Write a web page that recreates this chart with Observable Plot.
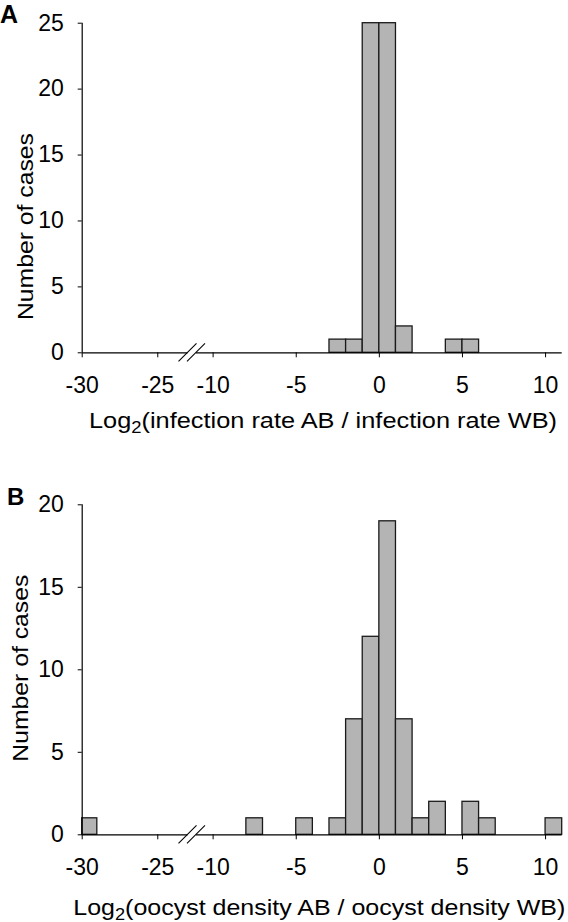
<!DOCTYPE html>
<html><head><meta charset="utf-8">
<script src="https://cdn.jsdelivr.net/npm/d3@7"></script>
<script src="https://cdn.jsdelivr.net/npm/@observablehq/plot@0.6"></script>
<style>
html,body{margin:0;padding:0;background:#fff;overflow:hidden}
svg{display:block}
</style>
</head><body><div id="panelA"></div><div id="panelB"></div>
<script>
// ---- data ----
const binWidth = 1;
const infectionBinStart = [-3, -2, -1, 0, 1, 4, 5];
const infectionCounts   = [1, 1, 25, 25, 2, 1, 1];
const oocystBinStart = [-30, -8, -5, -3, -2, -1, 0, 1, 2, 3, 5, 6, 10];
const oocystCounts   = [1, 1, 1, 1, 7, 12, 19, 7, 1, 2, 2, 1, 1];
const xTicks  = [-30, -25, -10, -5, 0, 5, 10];
const yTicksA = [0, 5, 10, 15, 20, 25];
const yTicksB = [0, 5, 10, 15, 20];
const xBreak  = [-23, -11];            // broken axis: left segment ends, right segment starts
const xDomain = [-30, -23, -11, 11];   // piecewise x scale
const yLabel = "Number of cases";
const titleA = ["Log", "2", "(infection rate AB / infection rate WB)"];
const titleB = ["Log", "2", "(oocyst density AB / oocyst density WB)"];

const FONT = "'Liberation Sans', Arial, sans-serif";

function panel(o) {
  const data = o.bins.map((lo, i) => ({lo, hi: lo + binWidth, count: o.counts[i]}));
  const chart = Plot.plot({
    width: 568,
    height: o.height,
    marginTop: o.marginTop,
    marginBottom: o.marginBottom,
    marginLeft: 81.7,
    marginRight: 6.3,
    style: {fontFamily: FONT, fontSize: "23px", color: "black", background: "white"},
    x: {type: "linear", domain: xDomain, range: [81.7, 187.5, 196, 561.7]},
    y: {domain: [0, o.yMax]},
    marks: [
      Plot.rectY(data, {x1: "lo", x2: "hi", y: "count", fill: "#b4b4b4", stroke: "#1a1a1a", strokeWidth: 1.3}),
      Plot.ruleY([0], {x1: xDomain[0], x2: xBreak[0], stroke: "black", strokeWidth: 1.2}),
      Plot.ruleY([0], {x1: xBreak[1], x2: xDomain[3], stroke: "black", strokeWidth: 1.2}),
      Plot.ruleX([xDomain[0]], {y1: 0, y2: o.yMax, stroke: "black", strokeWidth: 1.2}),
      Plot.axisX({ticks: xTicks, tickSize: 5, tickPadding: 19, label: null, tickFormat: d => String(d)}),
      Plot.axisY({ticks: o.yTicks, tickSize: 4, tickPadding: 14.4, label: null, tickFormat: d => String(d)})
    ]
  });
  document.getElementById(o.id).appendChild(chart);
  const svg = d3.select(chart);
  const xs = chart.scale("x"), ys = chart.scale("y");
  const y0 = ys.apply(0);
  // axis break marks
  for (const b of xBreak) {
    const cx = xs.apply(b);
    svg.append("line").attr("x1", cx - 9).attr("y1", y0 + 9).attr("x2", cx + 9).attr("y2", y0 - 9)
      .attr("stroke", "black").attr("stroke-width", 1.1);
  }
  // panel letter
  svg.append("text").attr("x", o.letterX).attr("y", o.letterY).attr("text-anchor", "start")
    .attr("font-weight", "bold").attr("font-size", o.letterSize).attr("font-family", FONT).text(o.letter);
  // x title with subscript
  const t = svg.append("text").attr("x", o.xtX).attr("y", o.xtY).attr("text-anchor", "start")
    .attr("font-size", 22).attr("font-family", FONT)
    .attr("textLength", o.xtLen).attr("lengthAdjust", "spacingAndGlyphs");
  t.append("tspan").text(o.title[0]);
  t.append("tspan").attr("dy", 5).attr("font-size", 16).text(o.title[1]);
  t.append("tspan").attr("dy", -5).text(o.title[2]);
  // y title
  svg.append("text").attr("transform", `translate(${o.ytX},${o.ytY}) rotate(-90)`)
    .attr("text-anchor", "start").attr("font-size", 22).attr("font-family", FONT)
    .attr("textLength", 187).attr("lengthAdjust", "spacingAndGlyphs").text(yLabel);
}

panel({id: "panelA", bins: infectionBinStart, counts: infectionCounts, yMax: 25, yTicks: yTicksA,
  height: 460, marginTop: 22.7, marginBottom: 107.7,
  letter: "A", letterX: 0, letterY: 23, letterSize: 25,
  title: titleA, xtX: 89, xtY: 428, xtLen: 468, ytX: 33, ytY: 320});

panel({id: "panelB", bins: oocystBinStart, counts: oocystCounts, yMax: 20, yTicks: yTicksB,
  height: 462, marginTop: 44.3, marginBottom: 87.7,
  letter: "B", letterX: 7, letterY: 45, letterSize: 24,
  title: titleB, xtX: 73.3, xtY: 455, xtLen: 492, ytX: 28.3, ytY: 301.7});
</script>
</body></html>
